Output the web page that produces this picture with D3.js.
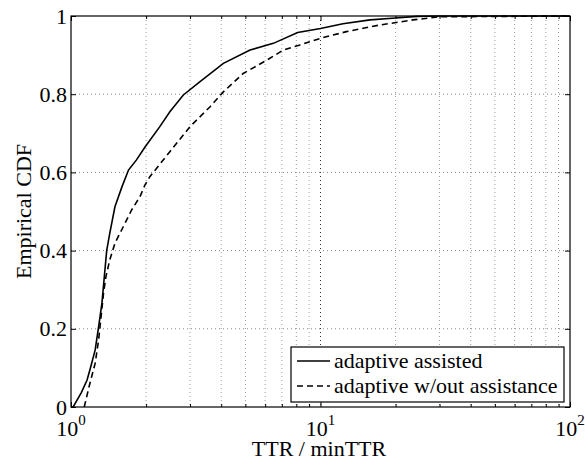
<!DOCTYPE html>
<html>
<head>
<meta charset="utf-8">
<script src="https://cdn.jsdelivr.net/npm/d3@7"></script>
<style>
  html, body { margin: 0; padding: 0; background: #fff; }
  svg text { font-family: "Liberation Serif", "Times New Roman", serif; fill: #000; }
</style>
</head>
<body>
<svg id="chart" width="585" height="465"></svg>
<script>
// ── data ────────────────────────────────────────────────
const assistedX   = [1.0, 1.02, 1.1, 1.16, 1.2, 1.25, 1.29, 1.33, 1.36, 1.39, 1.43, 1.5, 1.6, 1.7, 1.83, 1.98, 2.27, 2.49, 2.82, 3.29, 4.08, 5.22, 6.47, 8.1, 10, 12.3, 15.8, 20, 24.3, 30, 100]
const assistedY   = [0, 0, 0.037, 0.069, 0.103, 0.146, 0.205, 0.265, 0.333, 0.40, 0.444, 0.512, 0.563, 0.606, 0.632, 0.665, 0.717, 0.755, 0.798, 0.832, 0.879, 0.913, 0.930, 0.958, 0.968, 0.98, 0.99, 0.995, 0.999, 1, 1]
const unassistedX = [1.13, 1.19, 1.25, 1.29, 1.32, 1.35, 1.38, 1.43, 1.5, 1.62, 1.75, 1.89, 1.98, 2.07, 2.49, 3.0, 3.61, 4.08, 4.9, 6.09, 7.1, 8.28, 10, 12.7, 17.3, 23.5, 30, 100]
const unassistedY = [0, 0.06, 0.112, 0.171, 0.231, 0.291, 0.333, 0.376, 0.419, 0.461, 0.504, 0.538, 0.568, 0.589, 0.653, 0.717, 0.768, 0.806, 0.853, 0.887, 0.913, 0.926, 0.943, 0.96, 0.977, 0.99, 0.998, 1]

const xMajor    = [1, 10, 100]
const xExponent = ["0", "1", "2"]
const xMinor    = [2, 3, 4, 5, 6, 7, 8, 9, 20, 30, 40, 50, 60, 70, 80, 90]
const yTicks    = [0, 0.2, 0.4, 0.6, 0.8, 1]
const yLabels   = ["0", "0.2", "0.4", "0.6", "0.8", "1"]
const seriesNames = ["adaptive assisted", "adaptive w/out assistance"]

// ── layout ──────────────────────────────────────────────
const L = 71, R = 570, T = 16, B = 407
const FS = 22
const svg = d3.select("#chart")

const x = d3.scaleLog().domain([1, 100]).range([L, R])
const y = d3.scaleLinear().domain([0, 1]).range([B, T])

// Grid (dotted, MATLAB style)
const grid = svg.append("g").attr("class", "grid")
grid.selectAll("line.vmin").data(xMinor).join("line")
  .attr("class", "vmin")
  .attr("x1", d => x(d)).attr("x2", d => x(d))
  .attr("y1", T).attr("y2", B)
  .attr("stroke", "#999").attr("stroke-width", 1)
  .attr("stroke-dasharray", "1,3")
grid.selectAll("line.vmaj").data([10]).join("line")
  .attr("class", "vmaj")
  .attr("x1", d => x(d)).attr("x2", d => x(d))
  .attr("y1", T).attr("y2", B)
  .attr("stroke", "#333").attr("stroke-width", 1)
  .attr("stroke-dasharray", "1,3")
grid.selectAll("line.h").data(yTicks.slice(1, -1)).join("line")
  .attr("class", "h")
  .attr("x1", L).attr("x2", R)
  .attr("y1", d => y(d)).attr("y2", d => y(d))
  .attr("stroke", "#888").attr("stroke-width", 1)
  .attr("stroke-dasharray", "1,3")

// Inward ticks on all four sides
const tickStyle = g => {
  g.select(".domain").remove()
  g.selectAll("line").attr("stroke", "#000").attr("stroke-width", 1)
}
svg.append("g").attr("transform", `translate(0,${B})`)
  .call(d3.axisBottom(x).tickValues(xMajor).tickSize(-5).tickFormat("")).call(tickStyle)
svg.append("g").attr("transform", `translate(0,${B})`)
  .call(d3.axisBottom(x).tickValues(xMinor).tickSize(-3).tickFormat("")).call(tickStyle)
svg.append("g").attr("transform", `translate(0,${T})`)
  .call(d3.axisTop(x).tickValues(xMajor).tickSize(-5).tickFormat("")).call(tickStyle)
svg.append("g").attr("transform", `translate(0,${T})`)
  .call(d3.axisTop(x).tickValues(xMinor).tickSize(-3).tickFormat("")).call(tickStyle)
svg.append("g").attr("transform", `translate(${L},0)`)
  .call(d3.axisLeft(y).tickValues(yTicks).tickSize(-5).tickFormat("")).call(tickStyle)
svg.append("g").attr("transform", `translate(${R},0)`)
  .call(d3.axisRight(y).tickValues(yTicks).tickSize(-5).tickFormat("")).call(tickStyle)

// Tick labels
svg.append("g").selectAll("text").data(yTicks).join("text")
  .attr("x", L - 4).attr("y", d => y(d) + 7.5)
  .attr("text-anchor", "end").attr("font-size", FS)
  .text((d, i) => yLabels[i])

const xl = svg.append("g").selectAll("text").data(xMajor).join("text")
  .attr("x", d => x(d)).attr("y", 436)
  .attr("text-anchor", "middle").attr("font-size", FS)
xl.append("tspan").text("10")
xl.append("tspan").attr("dy", -11).attr("font-size", 15).text((d, i) => xExponent[i])

// Axis labels
svg.append("text").attr("x", 319).attr("y", 456)
  .attr("text-anchor", "middle").attr("font-size", FS)
  .text("TTR / minTTR")
svg.append("text")
  .attr("transform", `translate(31,${(T + B) / 2}) rotate(-90)`)
  .attr("text-anchor", "middle").attr("font-size", FS)
  .text("Empirical CDF")

// Curves
const line = d3.line().x(d => x(d[0])).y(d => y(d[1]))
svg.append("path")
  .datum(assistedX.map((v, i) => [v, assistedY[i]]))
  .attr("d", line).attr("fill", "none")
  .attr("stroke", "#000").attr("stroke-width", 1.6)
svg.append("path")
  .datum(unassistedX.map((v, i) => [v, unassistedY[i]]))
  .attr("d", line).attr("fill", "none")
  .attr("stroke", "#000").attr("stroke-width", 1.6)
  .attr("stroke-dasharray", "6,4")

// Frame
svg.append("rect")
  .attr("x", L).attr("y", T).attr("width", R - L).attr("height", B - T)
  .attr("fill", "none").attr("stroke", "#000").attr("stroke-width", 1.2)

// Legend
const leg = svg.append("g").attr("transform", "translate(291,347)")
leg.append("rect").attr("width", 273).attr("height", 55)
  .attr("fill", "#fff").attr("stroke", "#000").attr("stroke-width", 1.2)
const rows = leg.selectAll("g.row").data(seriesNames).join("g")
  .attr("class", "row")
  .attr("transform", (d, i) => `translate(0,${14 + i * 25})`)
rows.append("line")
  .attr("x1", 6).attr("x2", 39).attr("y1", 0).attr("y2", 0)
  .attr("stroke", "#000").attr("stroke-width", 1.6)
  .attr("stroke-dasharray", (d, i) => i ? "6,4" : null)
rows.append("text").attr("x", 43).attr("y", 7)
  .attr("font-size", FS)
  .text(d => d)
</script>
</body>
</html>
